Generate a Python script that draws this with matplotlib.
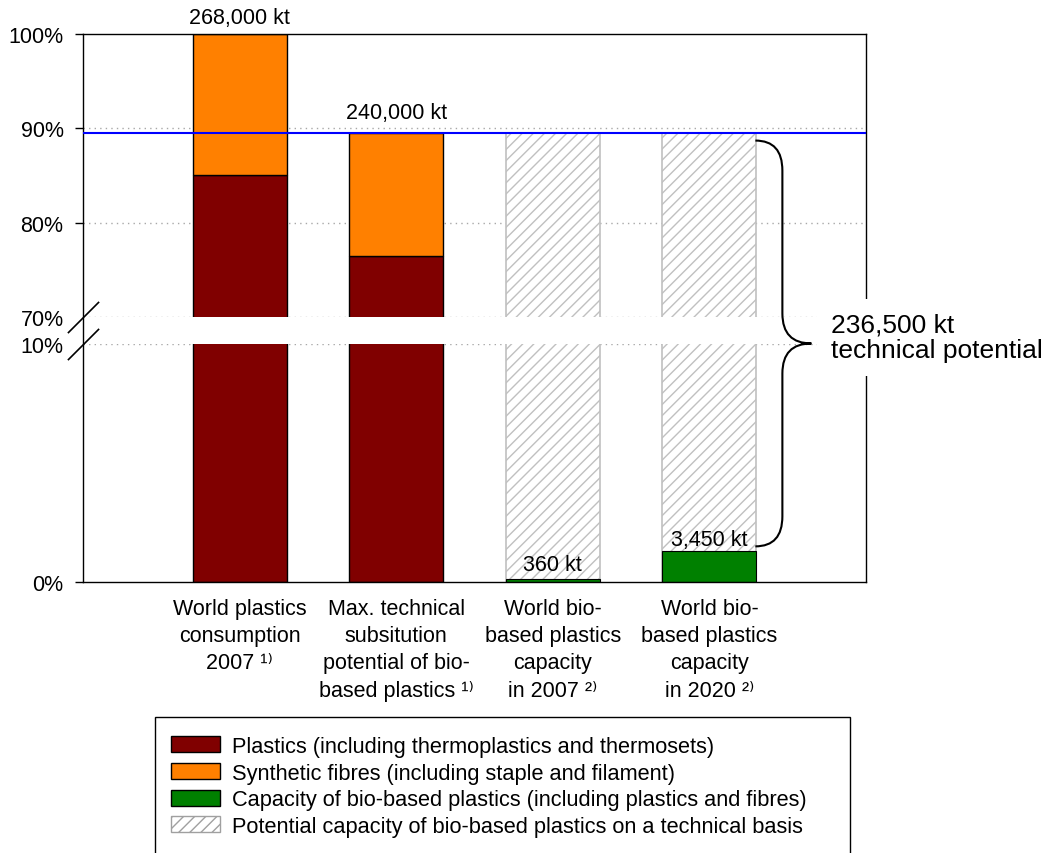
import numpy as np
import matplotlib
matplotlib.use("Agg")
import matplotlib.pyplot as plt
from matplotlib.patches import Patch, Rectangle, PathPatch
from matplotlib.path import Path
from matplotlib.transforms import IdentityTransform

plt.rcParams['font.family'] = ['Liberation Sans', 'DejaVu Sans']
plt.rcParams['hatch.linewidth'] = 1.0

# ---------------- data ----------------
categories = [
    "World plastics\nconsumption\n2007 \u00b9\u207e",
    "Max. technical\nsubsitution\npotential of bio-\nbased plastics \u00b9\u207e",
    "World bio-\nbased plastics\ncapacity\nin 2007 \u00b2\u207e",
    "World bio-\nbased plastics\ncapacity\nin 2020 \u00b2\u207e",
]
reference_kt = 268000
plastics_kt = [228000, 205000, 0, 0]
fibres_kt = [40000, 35000, 0, 0]
bio_capacity_kt = [0, 0, 360, 3450]
potential_kt = [0, 0, 240000, 240000]
value_labels = ["268,000 kt", "240,000 kt", "360 kt", "3,450 kt"]
label_levels_kt = [268000, 240000, 360, 3450]
substitution_line_kt = 240000
brace_text = "236,500 kt\ntechnical potential"
ytick_values = [0, 10, 70, 80, 90, 100]
ytick_labels = ["0%", "10%", "70%", "80%", "90%", "100%"]
legend_labels = [
    "Plastics (including thermoplastics and thermosets)",
    "Synthetic fibres (including staple and filament)",
    "Capacity of bio-based plastics (including plastics and fibres)",
    "Potential capacity of bio-based plastics on a technical basis",
]

pct = lambda a: np.asarray(a, float) / reference_kt * 100.0
plastics = pct(plastics_kt)
fibres = pct(fibres_kt)
bio = pct(bio_capacity_kt)
potential = pct(potential_kt)
label_levels = pct(label_levels_kt)
line_level = pct([substitution_line_kt])[0]

# ---------------- broken scale ----------------
def fwd(v):
    v = np.asarray(v, float)
    return np.where(v <= 10, v * 23.8,
                    np.where(v < 70, 238 + (v - 10) * 0.45,
                             265 + (v - 70) * 283.0 / 30.0))

def inv(u):
    u = np.asarray(u, float)
    return np.where(u <= 238, u / 23.8,
                    np.where(u < 265, 10 + (u - 238) / 0.45,
                             70 + (u - 265) * 30.0 / 283.0))

W, H = 1052, 854
fig = plt.figure(figsize=(W / 100, H / 100), dpi=100)
ax = fig.add_axes([83 / W, (H - 583) / H, 783 / W, 548 / H])
ax.set_yscale('function', functions=(fwd, inv))
ax.set_ylim(0, 100)
x = np.arange(1, len(categories) + 1)
ax.set_xlim(0, len(categories) + 1)

FS = 15.5
RED, ORANGE, GREEN, GRAY = '#800000', '#ff8000', '#008000', '#c0c0c0'

# grid
for v in [10, 70, 80, 90]:
    ax.axhline(v, color='#a8a8a8', lw=1.0, ls=(0, (1, 3)), zorder=1)

bw = 0.6
ax.bar(x, potential, bw, color='white', edgecolor=GRAY, hatch='///', lw=1.2, zorder=2)
ax.bar(x, plastics, bw, color=RED, edgecolor='black', lw=1.0, zorder=2)
ax.bar(x, fibres, bw, bottom=plastics, color=ORANGE, edgecolor='black', lw=1.0, zorder=2)
mask = bio > 0
ax.bar(x[mask], bio[mask], bw, color=GREEN, edgecolor='black', lw=0.8, zorder=2.05)

# white break band
ax.axhspan(11, 69, color='white', lw=0, zorder=2.2)

# substitution line
ax.axhline(line_level, color='#0000ff', lw=1.5, zorder=3)

# value labels
offs = [4, 7, 3, 1]
for xi, lv, lab, o in zip(x, label_levels, value_labels, offs):
    ax.annotate(lab, (xi, lv), xytext=(0, o), textcoords='offset points',
                ha='center', va='bottom', fontsize=FS, zorder=4)

# axes styling
for s in ax.spines.values():
    s.set_linewidth(1.0)
ax.set_yticks(ytick_values)
ax.set_yticklabels(ytick_labels, fontsize=FS)
ax.yaxis.set_minor_locator(matplotlib.ticker.NullLocator())
ax.tick_params(axis='y', length=6, width=1.0, pad=8)
for t, v in zip(ax.yaxis.get_major_ticks(), ytick_values):
    if v in (10, 70):
        t.tick1line.set_visible(False)
ax.set_xticks(x)
ax.set_xticklabels(categories, fontsize=FS, linespacing=1.39, va='top', ha='center',
                   multialignment='center')
ax.tick_params(axis='x', length=0, pad=11.5)

# break marks
ax.plot([0, 0], [70, 10], ls='none', marker=[(-1, -1), (1, 1)], markersize=22.5,
        mec='black', mew=1.2, clip_on=False, zorder=6)

# brace
fig.canvas.draw()
tr = ax.transData
x0 = tr.transform((x[3] + bw / 2, 0))[0] - 1
yt = tr.transform((0, potential[3]))[1] - 8
yb = tr.transform((0, bio[3]))[1] + 5
ym = (yt + yb) / 2
xv, xt, r = x0 + 27, x0 + 56, 30
verts = [(x0, yt), (xv, yt), (xv, yt - r),
         (xv, ym + r), (xv, ym), (xt, ym),
         (xv, ym), (xv, ym - r),
         (xv, yb + r), (xv, yb), (x0, yb)]
codes = [Path.MOVETO, Path.CURVE3, Path.CURVE3,
         Path.LINETO, Path.CURVE3, Path.CURVE3,
         Path.CURVE3, Path.CURVE3,
         Path.LINETO, Path.CURVE3, Path.CURVE3]
fig.add_artist(PathPatch(Path(verts, codes), fill=False, ec='black', lw=1.5,
                         transform=IdentityTransform(), zorder=4))
fig.text((xt + 20) / W, (ym + 6) / H, brace_text, fontsize=19, ha='left', va='center',
         linespacing=1.05, zorder=5,
         bbox=dict(facecolor='white', edgecolor='none', pad=10))

# legend
handles = [Patch(facecolor=RED, edgecolor='black', lw=1.0),
           Patch(facecolor=ORANGE, edgecolor='black', lw=1.0),
           Patch(facecolor=GREEN, edgecolor='black', lw=1.0),
           Patch(facecolor='white', edgecolor='#a0a0a0', hatch='///', lw=1.0)]
fig.legend(handles, legend_labels, loc='upper left',
           bbox_to_anchor=(171 / W, (H - 737) / H), frameon=False, fontsize=15.7,
           borderpad=0, borderaxespad=0, handlelength=2.25, handleheight=0.75,
           handletextpad=0.55, labelspacing=0.26)
fig.add_artist(Rectangle((155 / W, -0.05), (850 - 155) / W, (H - 718) / H + 0.05,
                         transform=fig.transFigure, fill=False, ec='black', lw=1.0,
                         clip_on=False))

fig.savefig('out.png', dpi=100)
